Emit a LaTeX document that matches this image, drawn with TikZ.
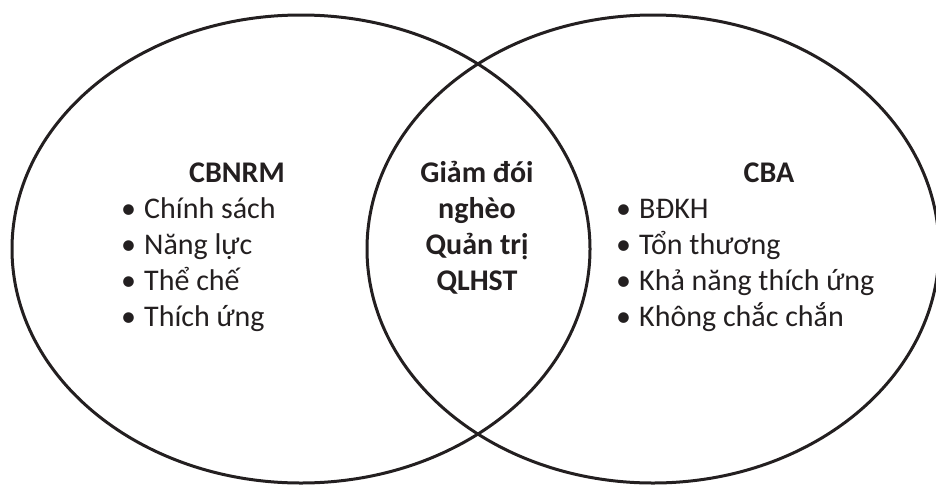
\documentclass[tikz,border=0pt]{standalone}
\usepackage{fontspec}
\setmainfont{Carlito}
\definecolor{ink}{HTML}{231F20}
\newcommand{\bul}{\makebox[23pt][l]{•}}
\begin{document}
\begin{tikzpicture}[x=1pt,y=-1pt,
  venn/.style={line width=3pt,draw=ink},
  txt/.style={inner sep=0pt,font=\fontsize{30}{36}\selectfont,text=ink},
  head/.style={txt,font=\fontsize{30}{36}\selectfont\bfseries,anchor=base},
  item/.style={txt,anchor=base west}]
\useasboundingbox (0,0) rectangle (936,485);
\draw[venn] (301,249) ellipse [x radius=289, y radius=234];
\draw[venn] (653,249) ellipse [x radius=286, y radius=234];
% left set
\node[head] (cbnrm) at (237,182) {CBNRM};
\node[item] (l1) at (121,218) {\bul Chính sách};
\node[item] (l2) at (121,254) {\bul Năng lực};
\node[item] (l3) at (121,290) {\bul Thể chế};
\node[item] (l4) at (121,326) {\bul Thích ứng};
% intersection
\node[head] (m1) at (477,182) {Giảm đói};
\node[head] (m2) at (477,218) {nghèo};
\node[head] (m3) at (477,254) {Quản trị};
\node[head] (m4) at (477,290) {QLHST};
% right set
\node[head] (cba) at (769,182) {CBA};
\node[item] (r1) at (616,218) {\bul BĐKH};
\node[item] (r2) at (616,254) {\bul Tổn thương};
\node[item] (r3) at (616,290) {\bul Khả năng thích ứng};
\node[item] (r4) at (616,326) {\bul Không chắc chắn};
\end{tikzpicture}
\end{document}
